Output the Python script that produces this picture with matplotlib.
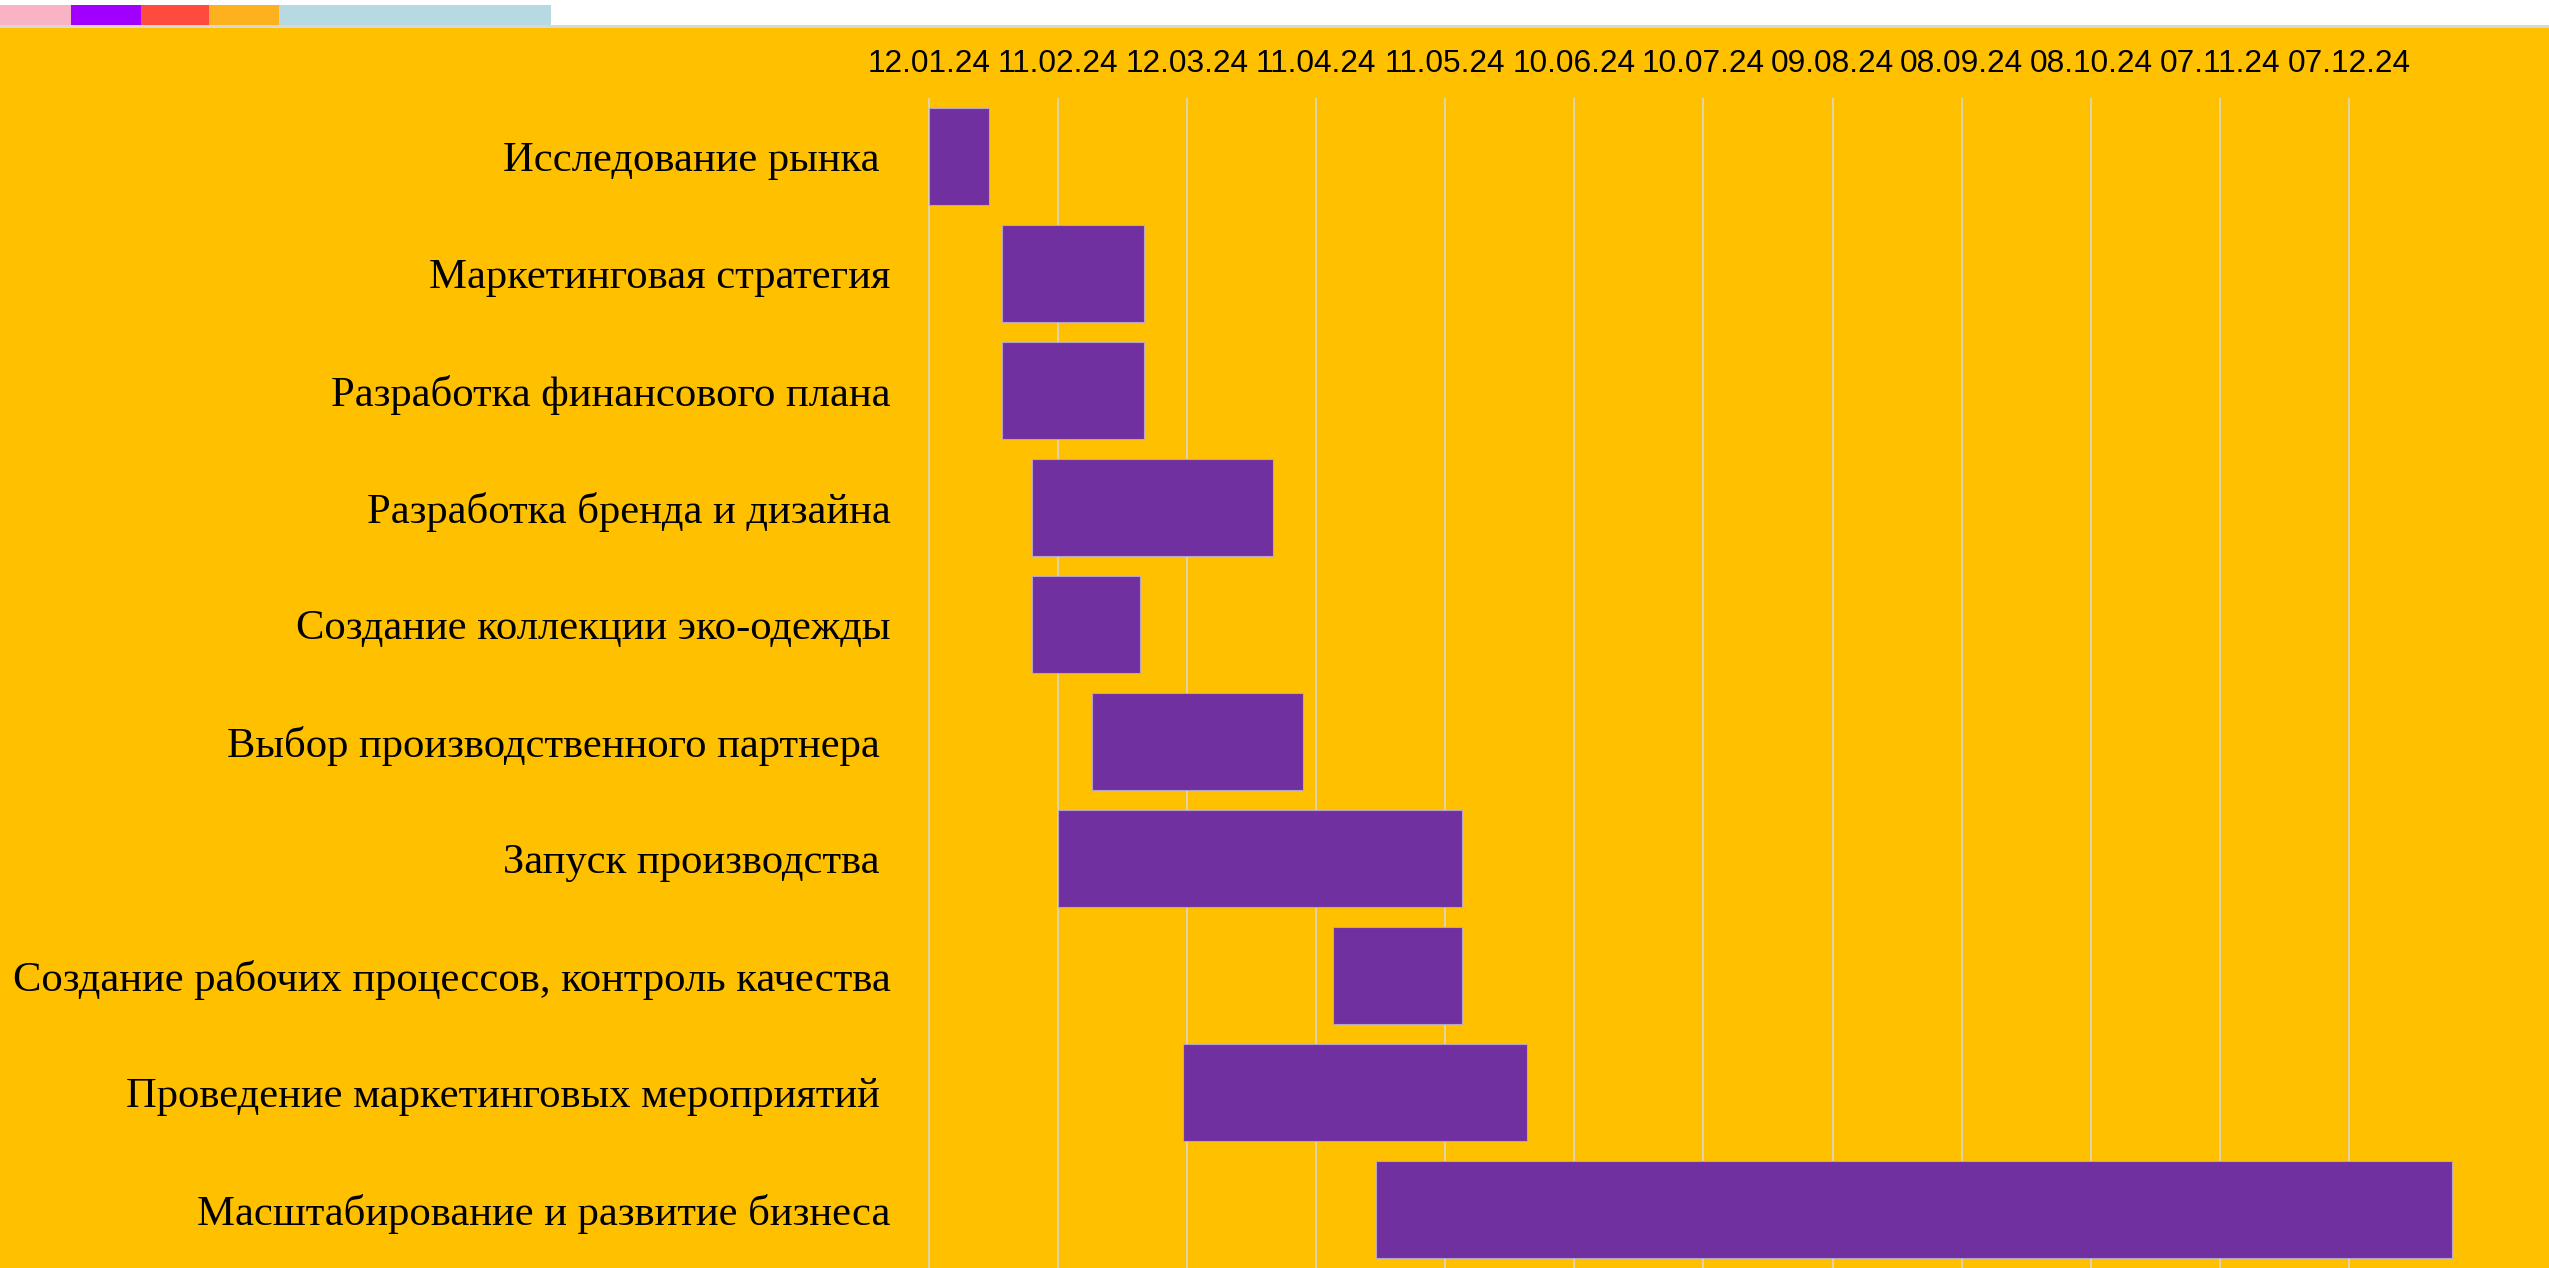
import matplotlib
matplotlib.use("Agg")
import matplotlib.pyplot as plt
import matplotlib.dates as mdates
from matplotlib.patches import Rectangle
from datetime import datetime

# ---- data ----
tasks = [
    "Исследование рынка ",
    "Маркетинговая стратегия",
    "Разработка финансового плана",
    "Разработка бренда и дизайна",
    "Создание коллекции эко-одежды",
    "Выбор производственного партнера ",
    "Запуск производства ",
    "Создание рабочих процессов, контроль качества",
    "Проведение маркетинговых мероприятий ",
    "Масштабирование и развитие бизнеса",
]
starts = ["2024-01-12", "2024-01-29", "2024-01-29", "2024-02-05", "2024-02-05",
          "2024-02-19", "2024-02-11", "2024-04-15", "2024-03-11", "2024-04-25"]
ends = ["2024-01-26", "2024-03-02", "2024-03-02", "2024-04-01", "2024-03-01",
        "2024-04-08", "2024-05-15", "2024-05-15", "2024-05-30", "2024-12-31"]
tick_dates = ["2024-01-12", "2024-02-11", "2024-03-12", "2024-04-11", "2024-05-11",
              "2024-06-10", "2024-07-10", "2024-08-09", "2024-09-08", "2024-10-08",
              "2024-11-07", "2024-12-07"]
palette = ["#F9B3C5", "#A100FF", "#FF4B3E", "#FDB11E", "#B6D9E2"]

BG = "#FFC000"
BAR = "#7030A0"

W, H = 2549, 1268
fig = plt.figure(figsize=(W / 100, H / 100), dpi=100, facecolor=BG)

# top white strip with palette swatches
fig.add_artist(Rectangle((0, 1 - 25 / H), 1, 25 / H, transform=fig.transFigure,
                         facecolor="white", edgecolor="none", zorder=0))
fig.add_artist(Rectangle((0, 1 - 28 / H), 1, 3 / H, transform=fig.transFigure,
                         facecolor="#D8D8D8", edgecolor="none", zorder=0))
sw_edges = [0, 71, 141, 209, 279, 551]
for i, c in enumerate(palette):
    fig.add_artist(Rectangle((sw_edges[i] / W, 1 - 25 / H),
                             (sw_edges[i + 1] - sw_edges[i]) / W, 20 / H,
                             transform=fig.transFigure, facecolor=c,
                             edgecolor="none", zorder=1))

ax_left, ax_top = 928, 98
ax_right = 2540
ax = fig.add_axes([ax_left / W, 0, (ax_right - ax_left) / W, (H - ax_top) / H])
ax.set_facecolor(BG)

s = [datetime.strptime(d, "%Y-%m-%d") for d in starts]
e = [datetime.strptime(d, "%Y-%m-%d") for d in ends]
s_num = mdates.date2num(s)
e_num = mdates.date2num(e)
ypos = list(range(len(tasks)))

ax.barh(ypos, e_num - s_num, left=s_num, height=0.83, color=BAR,
        edgecolor="#B8A3C4", linewidth=0.8, zorder=3)

t0 = mdates.date2num(datetime.strptime(tick_dates[0], "%Y-%m-%d"))
px_per_day = 129.1 / 30
ax.set_xlim(t0 - 0.2, t0 - 0.2 + (ax_right - ax_left) / px_per_day)
ax.set_ylim(len(tasks) - 0.5, -0.5)

tick_nums = [mdates.date2num(datetime.strptime(d, "%Y-%m-%d")) for d in tick_dates]
ax.set_xticks(tick_nums)
ax.set_xticklabels([datetime.strptime(d, "%Y-%m-%d").strftime("%d.%m.%y") for d in tick_dates],
                   fontfamily="Liberation Sans", fontsize=22.8, color="black")
ax.xaxis.tick_top()
ax.tick_params(axis="x", length=0, pad=13.5)

ax.set_yticks(ypos)
ax.set_yticklabels(tasks, fontfamily="Liberation Serif", fontsize=30.7, color="black")
ax.tick_params(axis="y", length=0, pad=27)

ax.grid(axis="x", color="#DADADA", linewidth=1.1, zorder=1)
ax.grid(axis="y", visible=False)
ax.set_axisbelow(True)
for sp in ax.spines.values():
    sp.set_visible(False)

fig.savefig("out.png", dpi=100, facecolor=BG)
